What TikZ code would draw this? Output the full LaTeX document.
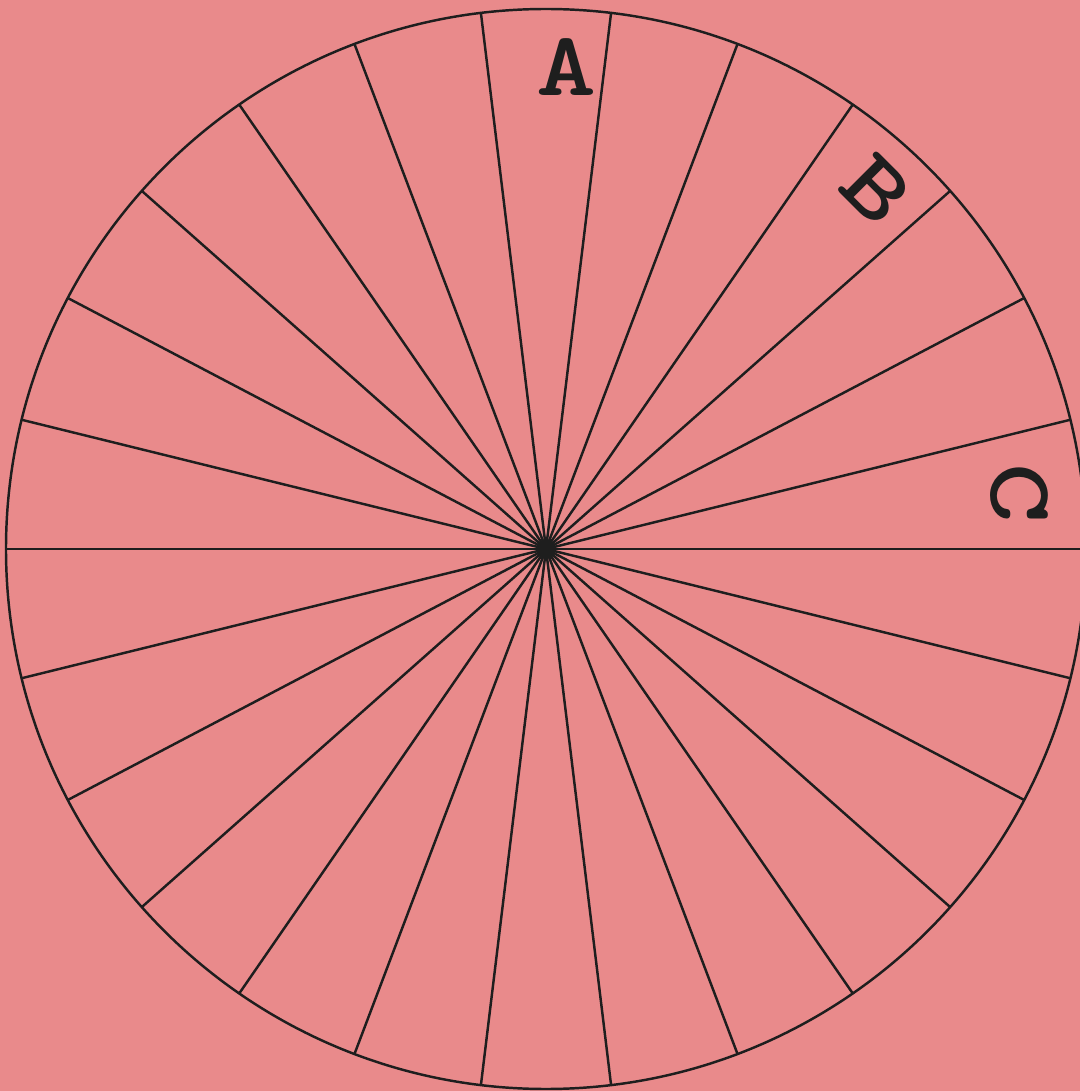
\documentclass[tikz,border=0pt]{standalone}
\definecolor{paperpink}{RGB}{233, 138, 139}
\definecolor{inkdark}{RGB}{30, 30, 30}
\usepackage{tikz}
\usetikzlibrary{positioning, calc}
\newcommand{\wideletter}[1]{\scalebox{1.25}[1]{#1}}

\begin{document}
\begin{tikzpicture}[line width=0.7pt, every node/.style={font=\ttfamily\bfseries\fontsize{26}{26}\selectfont, text=inkdark, inner sep=0pt}]
        % page, with the wheel's centre at the origin
        \fill[paperpink] (-5.46,-5.42) rectangle (5.34,5.49);
        \useasboundingbox (-5.46,-5.42) rectangle (5.34,5.49);
        \coordinate (hub) at (0,0);
        \draw[inkdark] (hub) circle (5.4);
        \foreach \k in {0,...,25}
          \draw[inkdark] (hub) -- (\k*360/26:5.4);
        \fill[inkdark] (hub) circle (0.1);
        \node (A) at (87.6:4.82) {\wideletter{A}};
        \node[rotate=-45] (B) at (47.3:4.88) {\wideletter{B}};
        \node[rotate=-90] (C) at (6.7:4.77) {\wideletter{C}};
      \end{tikzpicture}
\end{document}
